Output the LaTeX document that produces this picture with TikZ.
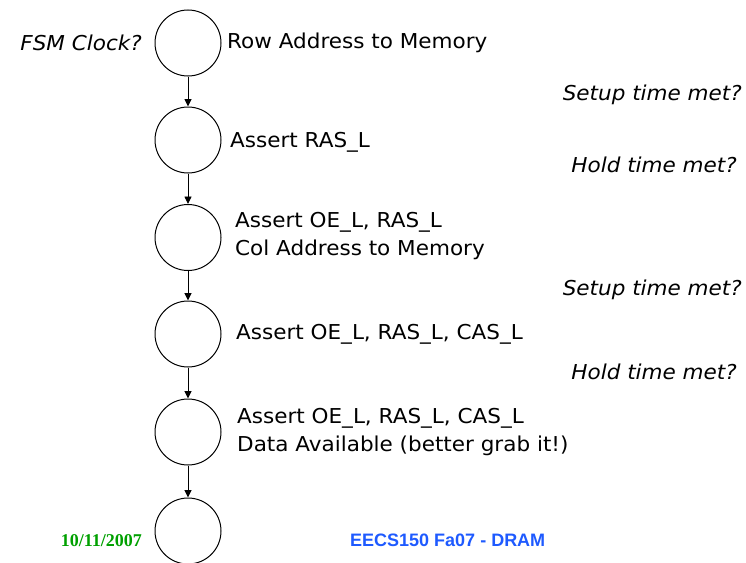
\documentclass[tikz,border=0pt]{standalone}
\usepackage{fontspec}
\setmainfont{DejaVu Sans}[FakeStretch=1.05]
\newfontfamily\datefont{Liberation Serif}
\newfontfamily\footfont{Liberation Sans}
\usetikzlibrary{arrows.meta}
\definecolor{dategreen}{RGB}{0,160,0}
\definecolor{footblue}{RGB}{30,90,255}
\begin{document}
\begin{tikzpicture}[x=1pt,y=-1pt,
  state/.style={circle,draw,line width=1pt,minimum size=66pt,inner sep=0pt},
  arr/.style={-{Triangle[length=7.5pt,width=7pt]},line width=0.9pt},
  lbl/.style={font=\fontsize{20.5}{28}\selectfont,anchor=base west,inner sep=0pt},
  qlbl/.style={font=\fontsize{20.5}{28}\selectfont\itshape,anchor=base east,inner sep=0pt}]
\useasboundingbox (0,0) rectangle (746,562);
% states
\node[state] (s1) at (188,43) {};
\node[state] (s2) at (188,140) {};
\node[state] (s3) at (188,237.5) {};
\node[state] (s4) at (188,334) {};
\node[state] (s5) at (188,432) {};
\node[state] (s6) at (188,531) {};
% transitions
\draw[arr] (s1) -- (s2);
\draw[arr] (s2) -- (s3);
\draw[arr] (s3) -- (s4);
\draw[arr] (s4) -- (s5);
\draw[arr] (s5) -- (s6);
% state labels
\node[lbl] (t1) at (227,48) {Row Address to Memory};
\node[lbl] (t2) at (230,147) {Assert RAS\_L};
\node[lbl] (t3a) at (235,227) {Assert OE\_L, RAS\_L};
\node[lbl] (t3b) at (235,255) {Col Address to Memory};
\node[lbl] (t4) at (236,339) {Assert OE\_L, RAS\_L, CAS\_L};
\node[lbl] (t5a) at (237,423) {Assert OE\_L, RAS\_L, CAS\_L};
\node[lbl] (t5b) at (237,451) {Data Available (better grab it!)};
% questions
\node[qlbl] (q0) at (142,50) {FSM Clock?};
\node[qlbl] (q1) at (742,100) {Setup time met?};
\node[qlbl] (q2) at (737,172) {Hold time met?};
\node[qlbl] (q3) at (742,295) {Setup time met?};
\node[qlbl] (q4) at (737,379) {Hold time met?};
% footer
\node[anchor=base east,inner sep=0pt,text=dategreen,font=\datefont\bfseries\fontsize{18}{20}\selectfont] (date) at (142,546) {10/11/2007};
\node[anchor=base west,inner sep=0pt,text=footblue,font=\footfont\bfseries\fontsize{18}{20}\selectfont] (foot) at (350,546) {EECS150 Fa07 - DRAM};
\end{tikzpicture}
\end{document}
